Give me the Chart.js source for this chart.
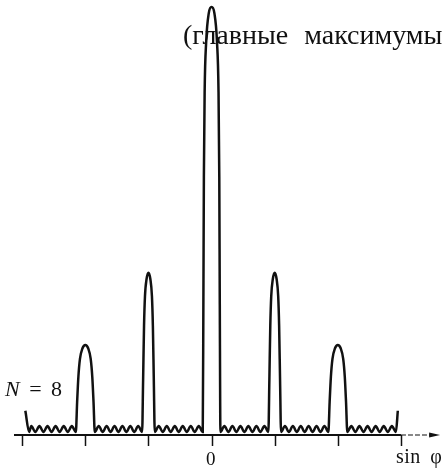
<!DOCTYPE html>
<html>
<head>
<meta charset="utf-8">
<script src="https://cdn.jsdelivr.net/npm/chart.js@4"></script>
<style>
  body { margin: 0; background: #fff; overflow: hidden; }
  #wrap { position: relative; width: 442px; height: 468px; overflow: hidden; }
  .lbl { position: absolute; font-family: "Liberation Serif", serif; color: #111; white-space: nowrap; line-height: 1; }
</style>
</head>
<body>
<div id="wrap">
  <canvas id="myChart" width="442" height="468"></canvas>
  <div class="lbl" style="left:183px; top:21px; font-size:28px; word-spacing:9px;">(главные максимумы)</div>
  <div class="lbl" style="left:5px; top:378px; font-size:22px; word-spacing:4px;"><i>N</i> = 8</div>
  <div class="lbl" style="left:206px; top:449px; font-size:19px;">0</div>
  <div class="lbl" style="left:396px; top:446px; font-size:20px; word-spacing:4px; letter-spacing:0.5px;">sin φ</div>
</div>
<script>
// sin(phi) in units of lambda/d, intensity relative to the central maximum
const sinPhi = [
  -2.95, -2.89,
  -2.856, -2.792, -2.727, -2.663, -2.599, -2.535, -2.471, -2.407, -2.342, -2.278, -2.214, -2.15,
  -2.13, -2.11, -2.085, -2.045, -2, -1.955, -1.915, -1.89, -1.87, -1.85,
  -1.7875, -1.725, -1.6625, -1.6, -1.5375, -1.475, -1.4125, -1.35, -1.2875, -1.225, -1.1625, -1.1,
  -1.085, -1.07, -1.055, -1.03, -1, -0.97, -0.945, -0.93, -0.915, -0.9,
  -0.837, -0.773, -0.71, -0.647, -0.583, -0.52, -0.457, -0.393, -0.33, -0.267, -0.203, -0.14,
  -0.13, -0.122, -0.11, -0.085, -0.045, 0, 0.045, 0.085, 0.11, 0.122, 0.13, 0.14,
  0.203, 0.267, 0.33, 0.393, 0.457, 0.52, 0.583, 0.647, 0.71, 0.773, 0.837, 0.9,
  0.915, 0.93, 0.945, 0.97, 1, 1.03, 1.055, 1.07, 1.085, 1.1,
  1.1625, 1.225, 1.2875, 1.35, 1.4125, 1.475, 1.5375, 1.6, 1.6625, 1.725, 1.7875, 1.85,
  1.87, 1.89, 1.915, 1.955, 2, 2.045, 2.085, 2.11, 2.13, 2.15,
  2.214, 2.278, 2.342, 2.407, 2.471, 2.535, 2.599, 2.663, 2.727, 2.792, 2.856, 2.92,
  2.95
];
const intensity = [
  0.05, 0,
  0.014, 0, 0.014, 0, 0.014, 0, 0.014, 0, 0.014, 0, 0.014, 0,
  0.07, 0.13, 0.172, 0.197, 0.205, 0.197, 0.172, 0.13, 0.07, 0,
  0.014, 0, 0.014, 0, 0.014, 0, 0.014, 0, 0.014, 0, 0.014, 0,
  0.12, 0.25, 0.32, 0.36, 0.375, 0.36, 0.32, 0.25, 0.12, 0,
  0.014, 0, 0.014, 0, 0.014, 0, 0.014, 0, 0.014, 0, 0.014, 0,
  0.3, 0.6, 0.8, 0.92, 0.985, 1, 0.985, 0.92, 0.8, 0.6, 0.3, 0,
  0.014, 0, 0.014, 0, 0.014, 0, 0.014, 0, 0.014, 0, 0.014, 0,
  0.12, 0.25, 0.32, 0.36, 0.375, 0.36, 0.32, 0.25, 0.12, 0,
  0.014, 0, 0.014, 0, 0.014, 0, 0.014, 0, 0.014, 0, 0.014, 0,
  0.07, 0.13, 0.172, 0.197, 0.205, 0.197, 0.172, 0.13, 0.07, 0,
  0.014, 0, 0.014, 0, 0.014, 0, 0.014, 0, 0.014, 0, 0.014, 0,
  0.05
];
const tickValues = [-3, -2, -1, 0, 1, 2, 3];
const axisStart = -3.13;
const axisEnd = 3.62;

// axis line with ticks and arrow, drawn under the curve
const axisPlugin = {
  id: 'axisArrow',
  beforeDatasetsDraw(chart) {
    const ctx = chart.ctx;
    const xs = chart.scales.x;
    const y0 = chart.chartArea.bottom + 3;
    const xA = xs.getPixelForValue(axisStart);
    const xLast = xs.getPixelForValue(tickValues[tickValues.length - 1]);
    const xB = xs.getPixelForValue(axisEnd);
    ctx.save();
    ctx.strokeStyle = '#111';
    ctx.lineWidth = 2;
    ctx.beginPath();
    ctx.moveTo(xA, y0);
    ctx.lineTo(xLast, y0);
    ctx.stroke();
    ctx.lineWidth = 1.2;
    ctx.setLineDash([5, 2]);
    ctx.beginPath();
    ctx.moveTo(xLast, y0);
    ctx.lineTo(xB - 8, y0);
    ctx.stroke();
    ctx.setLineDash([]);
    ctx.fillStyle = '#111';
    ctx.beginPath();
    ctx.moveTo(xB, y0);
    ctx.lineTo(xB - 11, y0 - 2.5);
    ctx.lineTo(xB - 11, y0 + 2.5);
    ctx.closePath();
    ctx.fill();
    ctx.lineWidth = 1.5;
    tickValues.forEach(v => {
      const px = Math.round(xs.getPixelForValue(v)) + 0.5;
      ctx.beginPath();
      ctx.moveTo(px, y0);
      ctx.lineTo(px, y0 + 11);
      ctx.stroke();
    });
    ctx.restore();
  }
};

const ctx = document.getElementById('myChart').getContext('2d');
new Chart(ctx, {
  type: 'line',
  data: {
    datasets: [{
      data: sinPhi.map((x, i) => ({ x: x, y: intensity[i] })),
      borderColor: '#111',
      borderWidth: 2.5,
      pointRadius: 0,
      fill: false,
      cubicInterpolationMode: 'monotone',
      clip: false
    }]
  },
  options: {
    responsive: false,
    animation: false,
    devicePixelRatio: 1,
    layout: { padding: { left: 2, right: 0, top: 7, bottom: 36 } },
    plugins: { legend: { display: false }, tooltip: { enabled: false } },
    scales: {
      x: { type: 'linear', min: -3.32, max: 3.65, display: false },
      y: { min: 0, max: 1, display: false }
    }
  },
  plugins: [axisPlugin]
});
</script>
</body>
</html>
